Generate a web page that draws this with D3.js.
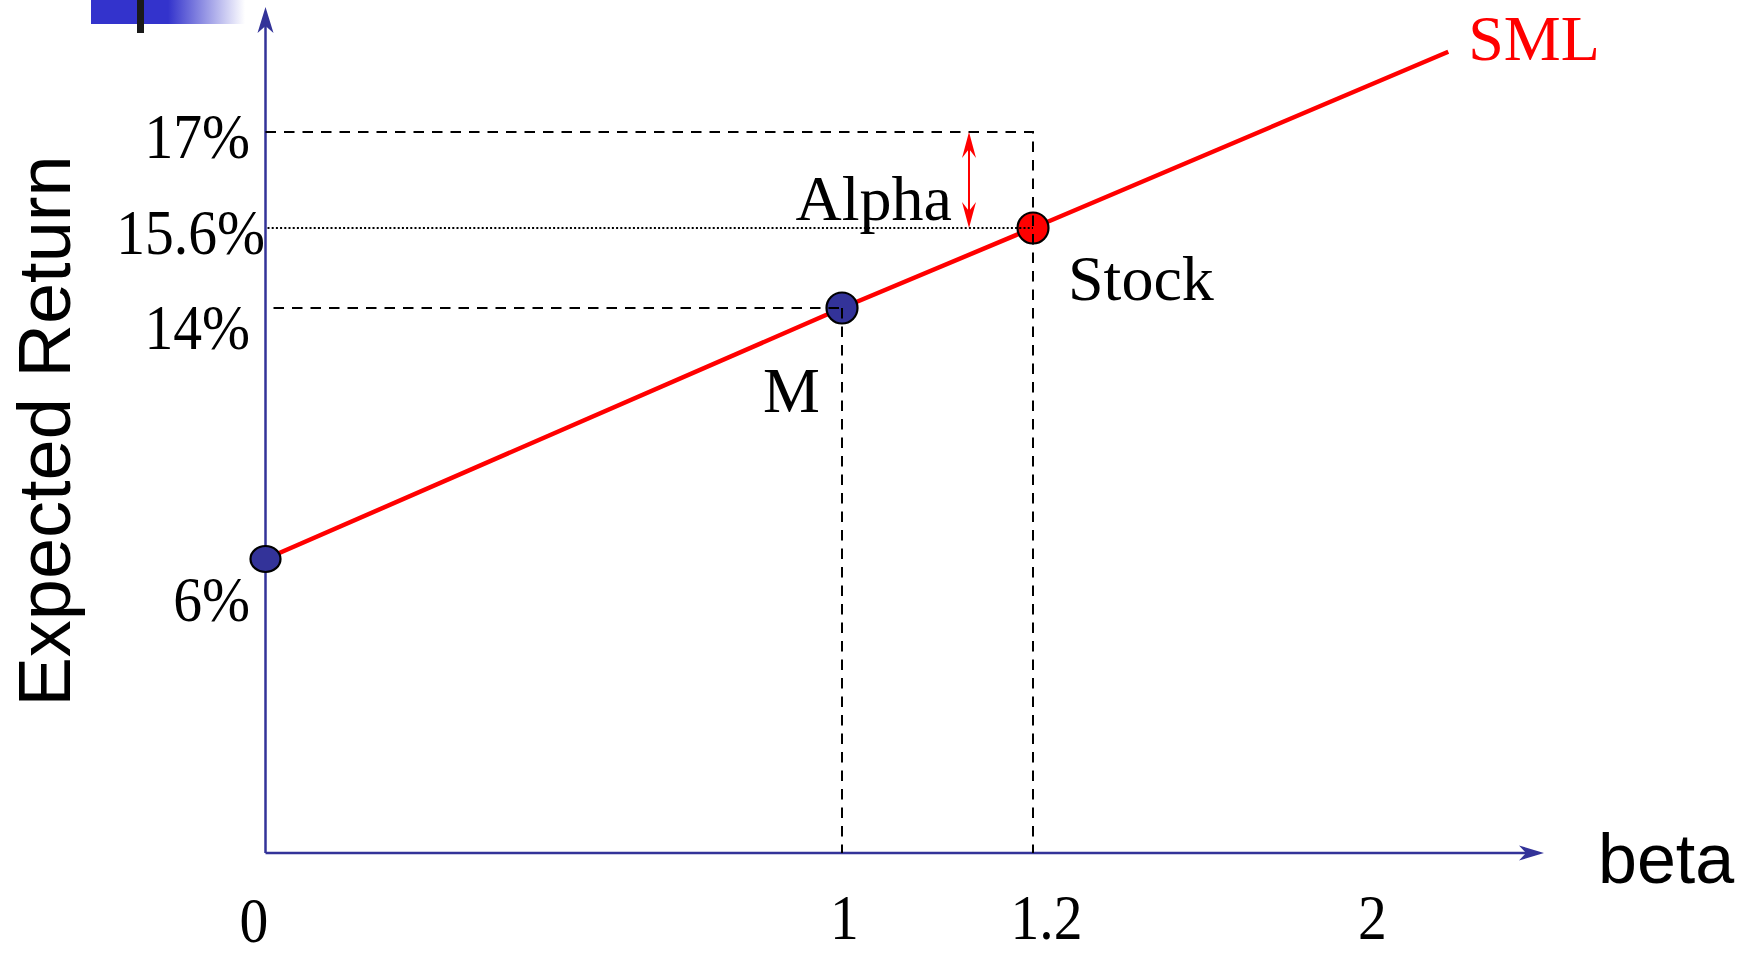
<!DOCTYPE html>
<html>
<head>
<meta charset="utf-8">
<script src="https://cdn.jsdelivr.net/npm/d3@7"></script>
<style>
  html, body { margin: 0; padding: 0; background: #fff; overflow: hidden; }
  svg { display: block; }
</style>
</head>
<body>
<svg id="chart" width="1744" height="959"></svg>
<script>
// ---- data -------------------------------------------------------------
const betaTicks    = [0, 1, 1.2, 2];
const returnTicks  = [6, 14, 15.6, 17];
const assetNames   = ["rf", "M", "Stock"];
const assetBeta    = [0, 1, 1.2];
const assetReturn  = [6, 14, 15.6];          // required return on the SML
const smlBeta      = [0, 1, 1.2, 2.18];
const smlReturn    = [6, 14, 15.6, 18.17];
const stockForecast = [17];                  // forecast return of the stock
const alphaBeta    = [1.133];                // where the alpha arrow sits

// ---- layout -----------------------------------------------------------
const W = 1744, H = 959;
const SERIF = "'Liberation Serif', 'Times New Roman', serif";
const SANS  = "'Liberation Sans', Arial, sans-serif";
const AXIS_BLUE = "#333399";

const svg = d3.select("#chart");

// The diagram is schematic, so both scales are piecewise linear.
const x = d3.scaleLinear().domain(betaTicks).range([265.5, 842, 1033, 1372]);
const y = d3.scaleLinear().domain([0, ...returnTicks]).range([853, 559, 308, 228, 132]);

const originX = x(0), originY = y(0);
const xAxisEnd = 1544, yAxisEnd = 7;

// barbed arrow head; (dx, dy) is the unit vector the tip points along
function barb(tx, ty, dx, dy, len, half, notch) {
  const px = -dy, py = dx;
  const bx = tx - dx * len, by = ty - dy * len;
  const nx = tx - dx * (len - notch), ny = ty - dy * (len - notch);
  return `M${tx},${ty}L${bx + px * half},${by + py * half}L${nx},${ny}L${bx - px * half},${by - py * half}Z`;
}

// ---- header ornament ----------------------------------------------------
const defs = svg.append("defs");
const grad = defs.append("linearGradient").attr("id", "hdrGrad")
  .attr("x1", "0%").attr("x2", "100%").attr("y1", "0%").attr("y2", "0%");
grad.append("stop").attr("offset", "0%").attr("stop-color", "#3333cc");
grad.append("stop").attr("offset", "50%").attr("stop-color", "#3333cc");
grad.append("stop").attr("offset", "100%").attr("stop-color", "#ffffff");
svg.append("rect").attr("x", 91).attr("y", 0).attr("width", 154).attr("height", 24)
  .attr("fill", "url(#hdrGrad)");
svg.append("rect").attr("x", 137).attr("y", 0).attr("width", 7).attr("height", 33)
  .attr("fill", "#1a1a1a");

// ---- axes -------------------------------------------------------------
const axes = svg.append("g");
axes.append("line")
  .attr("x1", originX).attr("y1", originY).attr("x2", xAxisEnd - 10).attr("y2", originY)
  .attr("stroke", AXIS_BLUE).attr("stroke-width", 2.5);
axes.append("path").attr("d", barb(xAxisEnd, originY, 1, 0, 25, 7.5, 7)).attr("fill", AXIS_BLUE);
axes.append("line")
  .attr("x1", originX).attr("y1", originY).attr("x2", originX).attr("y2", yAxisEnd + 10)
  .attr("stroke", AXIS_BLUE).attr("stroke-width", 2.5);
axes.append("path").attr("d", barb(originX, yAxisEnd, 0, -1, 26, 8, 7)).attr("fill", AXIS_BLUE);

// ---- guide lines --------------------------------------------------------
const guides = svg.append("g").attr("fill", "none").attr("stroke", "#000").attr("stroke-width", 2);
const stockX = x(assetBeta[2]), mX = x(assetBeta[1]);
// forecast return of the stock
guides.append("path")
  .attr("d", `M${originX},${y(stockForecast[0])}H${stockX}V${originY}`)
  .attr("stroke-dasharray", "10.5,8");
// market return
guides.append("path")
  .attr("d", `M${originX + 8},${y(assetReturn[1])}H${mX}`)
  .attr("stroke-dasharray", "10.5,8");
// required return of the stock
guides.append("path")
  .attr("d", `M${originX + 2},${y(assetReturn[2])}H${stockX}`)
  .attr("stroke-dasharray", "2,2.2");

// ---- security market line ----------------------------------------------
const sml = d3.line().x((d, i) => x(smlBeta[i])).y((d, i) => y(smlReturn[i]));
svg.append("path").datum(smlBeta).attr("d", sml)
  .attr("fill", "none").attr("stroke", "#ff0000").attr("stroke-width", 4.5);

// ---- points -------------------------------------------------------------
const pointFill = { rf: "#333399", M: "#333399", Stock: "#ff0000" };
const pointRy   = { rf: 13, M: 15.5, Stock: 15.5 };
svg.append("g").selectAll("ellipse").data(assetNames).join("ellipse")
  .attr("cx", (d, i) => x(assetBeta[i]))
  .attr("cy", (d, i) => y(assetReturn[i]))
  .attr("rx", d => d === "rf" ? 15 : 15.5).attr("ry", d => pointRy[d])
  .attr("fill", d => pointFill[d]).attr("stroke", "#000").attr("stroke-width", 2.2);

// vertical drop from the market portfolio
guides.raise();
guides.append("path")
  .attr("d", `M${mX},${y(assetReturn[1])}V${originY}`)
  .attr("stroke-dasharray", "10.5,8");

// ---- alpha arrow ----------------------------------------------------------
const ax = x(alphaBeta[0]);
const aTop = y(stockForecast[0]), aBot = y(assetReturn[2]);
const alpha = svg.append("g");
alpha.append("line").attr("x1", ax).attr("x2", ax).attr("y1", aTop + 10).attr("y2", aBot - 10)
  .attr("stroke", "#ff0000").attr("stroke-width", 2);
alpha.append("path").attr("d", barb(ax, aTop, 0, -1, 26, 7, 9)).attr("fill", "#ff0000");
alpha.append("path").attr("d", barb(ax, aBot, 0, 1, 26, 7, 9)).attr("fill", "#ff0000");

// ---- tick labels ------------------------------------------------------------
const yNudge = { 17: [-15.5, 25], 15.6: [-0.5, 25], 14: [-15.5, 40], 6: [-15.5, 61] };
const yAxis = svg.append("g").attr("transform", `translate(${originX},0)`)
  .call(d3.axisLeft(y).tickValues(returnTicks).tickFormat(d => d + "%").tickSize(0));
yAxis.select(".domain").remove();
yAxis.selectAll("text")
  .attr("x", null).attr("dy", null)
  .attr("transform", d => `translate(${yNudge[d][0]},${yNudge[d][1]}) scale(0.9,1)`)
  .attr("text-anchor", "end")
  .style("font-family", SERIF).style("font-size", "64px").attr("fill", "#000");

const xNudge = { 0: [-12, 89], 1: [2, 86], 1.2: [13, 86], 2: [0, 86] };
const xAxis = svg.append("g").attr("transform", `translate(0,${originY})`)
  .call(d3.axisBottom(x).tickValues(betaTicks).tickFormat(d => String(d)).tickSize(0));
xAxis.select(".domain").remove();
xAxis.selectAll("text")
  .attr("y", null).attr("dy", null)
  .attr("transform", d => `translate(${xNudge[d][0]},${xNudge[d][1]}) scale(0.9,1)`)
  .attr("text-anchor", "middle")
  .style("font-family", SERIF).style("font-size", "64px").attr("fill", "#000");

// ---- annotations -----------------------------------------------------------
const note = (txt, px, py, anchor, color) =>
  svg.append("text").attr("x", px).attr("y", py).attr("text-anchor", anchor)
    .attr("fill", color || "#000")
    .style("font-family", SERIF).style("font-size", "64px").text(txt);

note("Alpha", ax - 17, aBot - 8, "end");
note("Stock", stockX + 35, y(assetReturn[2]) + 72, "start");
note("M", mX - 22, y(assetReturn[1]) + 104, "end");
note("SML", x(smlBeta[3]) + 20, y(smlReturn[3]) + 8, "start", "#ff0000");

// axis titles
svg.append("text").attr("x", xAxisEnd + 54).attr("y", originY + 30)
  .style("font-family", SANS).style("font-size", "70px").attr("fill", "#000").text("beta");
svg.append("text")
  .attr("transform", `translate(70,431) rotate(-90)`)
  .attr("text-anchor", "middle")
  .style("font-family", SANS).style("font-size", "74px").attr("fill", "#000")
  .text("Expected Return");
</script>
</body>
</html>
